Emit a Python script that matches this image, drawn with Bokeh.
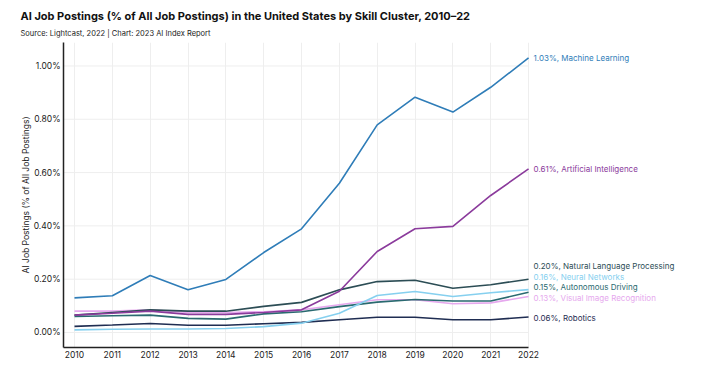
from bokeh.plotting import figure
from bokeh.models import Label, Title, FixedTicker, CustomJSTickFormatter
from bokeh.embed import file_html
from bokeh.resources import INLINE

years = list(range(2010, 2023))
machine_learning = [0.13, 0.138, 0.214, 0.16, 0.199, 0.30, 0.389, 0.56, 0.779, 0.883, 0.827, 0.92, 1.03]
artificial_intelligence = [0.065, 0.072, 0.08, 0.068, 0.068, 0.075, 0.085, 0.155, 0.304, 0.389, 0.398, 0.514, 0.614]
nlp = [0.065, 0.075, 0.085, 0.08, 0.08, 0.098, 0.113, 0.16, 0.191, 0.196, 0.166, 0.179, 0.20]
neural_networks = [0.010, 0.012, 0.013, 0.013, 0.015, 0.022, 0.035, 0.072, 0.139, 0.154, 0.135, 0.149, 0.161]
autonomous_driving = [0.060, 0.063, 0.065, 0.053, 0.050, 0.070, 0.078, 0.097, 0.114, 0.124, 0.118, 0.118, 0.151]
visual_image = [0.080, 0.080, 0.085, 0.075, 0.075, 0.078, 0.085, 0.104, 0.123, 0.123, 0.108, 0.111, 0.135]
robotics = [0.023, 0.028, 0.034, 0.027, 0.027, 0.033, 0.038, 0.048, 0.057, 0.057, 0.048, 0.048, 0.058]

names = ["Machine Learning", "Artificial Intelligence", "Natural Language Processing",
         "Neural Networks", "Autonomous Driving", "Visual Image Recognition", "Robotics"]
series = [machine_learning, artificial_intelligence, nlp, neural_networks,
          autonomous_driving, visual_image, robotics]
end_labels = ["1.03%", "0.61%", "0.20%", "0.16%", "0.15%", "0.13%", "0.06%"]
label_y = [1.03, 0.614, 0.251, 0.21, 0.169, 0.131, 0.056]
colors = ["#2f7db8", "#8b3b9c", "#2c4d55", "#86d0ef", "#2a6a70", "#e6a8ee", "#1f2d52"]
y_ticks = [0.0, 0.2, 0.4, 0.6, 0.8, 1.0]

FONT = "Inter"
X0, X1 = 2009.709, 2026.28
p = figure(width=700, height=365, output_backend="svg", toolbar_location=None,
           x_range=(X0, X1), y_range=(-0.0563, 1.088),
           min_border_left=63, min_border_right=10, min_border_bottom=18, min_border_top=42)
p.outline_line_color = None

# horizontal grid lines only up to the last year
p.segment(x0=[X0] * len(y_ticks), y0=y_ticks, x1=[years[-1]] * len(y_ticks), y1=y_ticks,
          line_color="#eeeeee", line_width=1)

for vals, col in zip(series[::-1], colors[::-1]):
    p.line(years, vals, line_color=col, line_width=1.6)

for nm, txt, yy, col in zip(names, end_labels, label_y, colors):
    p.add_layout(Label(x=years[-1], y=yy, x_offset=5, text=f"{txt}, {nm}", text_color=col,
                       text_font=FONT, text_font_size="8px", text_baseline="middle"))

p.xaxis.ticker = FixedTicker(ticks=years)
p.xaxis.bounds = (X0, years[-1])
p.yaxis.ticker = FixedTicker(ticks=y_ticks)
p.yaxis.formatter = CustomJSTickFormatter(code="return tick.toFixed(2) + '%';")
for ax in (p.xaxis, p.yaxis):
    ax.major_tick_line_color = None
    ax.minor_tick_line_color = None
    ax.major_tick_out = 0
    ax.major_tick_in = 0
    ax.minor_tick_out = 0
    ax.major_label_text_font = FONT
    ax.major_label_text_font_size = "8.5px"
    ax.major_label_text_color = "#222222"
    ax.axis_line_color = "#222222"
    ax.axis_line_width = 1.5
p.xaxis.major_label_standoff = 3
p.xaxis.axis_label_standoff = 0
p.yaxis.major_label_standoff = 3
p.yaxis.axis_label = "AI Job Postings (% of All Job Postings)"
p.yaxis.axis_label_text_font = FONT
p.yaxis.axis_label_text_font_style = "normal"
p.yaxis.axis_label_text_font_size = "8.5px"
p.yaxis.axis_label_text_color = "#222222"
p.yaxis.axis_label_standoff = 0
p.xgrid.grid_line_color = "#eeeeee"
p.ygrid.grid_line_color = None

p.add_layout(Title(text="Source: Lightcast, 2022 | Chart: 2023 AI Index Report", text_font=FONT,
                   text_font_size="7.5px", text_font_style="normal", text_color="#222222",
                   align="left", offset=-43, standoff=9), "above")
p.add_layout(Title(text="AI Job Postings (% of All Job Postings) in the United States by Skill Cluster, 2010–22",
                   text_font=FONT, text_font_size="11px", text_font_style="bold", text_color="#111111",
                   align="left", offset=-43, standoff=0), "above")

open("out.html", "w").write(file_html(p, INLINE))
